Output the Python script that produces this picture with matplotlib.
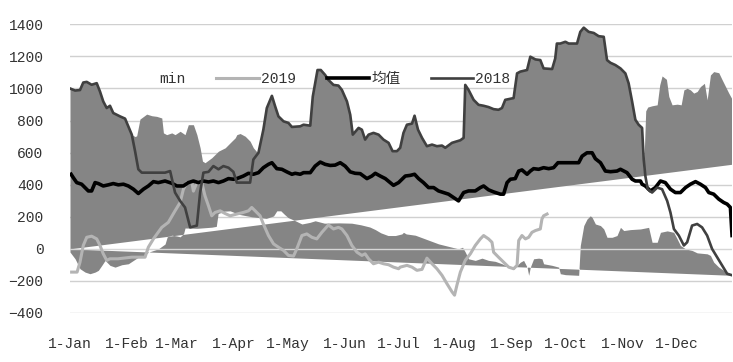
import numpy as np
import matplotlib
matplotlib.use('Agg')
import matplotlib.pyplot as plt
from matplotlib.patches import Patch
from matplotlib.lines import Line2D

plt.rcParams['font.family'] = ['Liberation Mono', 'Noto Sans CJK SC']

# ---------------- data (day of year, value) ----------------
month_ticks = [0, 31, 59, 90, 120, 151, 181, 212, 243, 273, 304, 334]
month_labels = ['1-Jan', '1-Feb', '1-Mar', '1-Apr', '1-May', '1-Jun',
                '1-Jul', '1-Aug', '1-Sep', '1-Oct', '1-Nov', '1-Dec']
y_ticks = [-400, -200, 0, 200, 400, 600, 800, 1000, 1200, 1400]

# upper edge of the grey "max" area
max_days = [0, 2.8, 5.5, 7.3, 9.2, 11.9, 14.7, 16.5, 18.3, 20.2, 22, 23.8, 27.5, 30.3, 32.1, 34,
            35.8, 36.7, 38.5, 42.2, 45, 47.7, 50.5, 51.4, 53.2, 56, 57.8, 60.6, 63.3, 65.1, 67.9,
            69.8, 71.6, 72.9, 74.3, 78, 81.7, 85.4, 89, 90.9, 91.8, 93.6, 96.4, 99.1, 100.9, 102.8,
            103.7, 106.4, 108.3, 111.1, 112.9, 114.7, 117.5, 120.2, 122.1, 126.7, 128.5, 132.2,
            133.6, 136.2, 138, 140.4, 142.2, 145, 147.7, 149.6, 152.4, 154.2, 155.6, 158.8, 160.6,
            162.4, 164.3, 167, 169.8, 172.5, 175.3, 177.5, 179.9, 181.7, 183.5, 185.4, 188.2, 189.6,
            191.5, 193.7, 196.4, 199.2, 201.9, 204.7, 206.5, 210.2, 214.8, 216.6, 217.5, 219.3,
            222.1, 224.8, 227.6, 230.3, 233.1, 235.8, 237.7, 239.5, 242.3, 244.1, 246, 247.8,
            251.5, 253.3, 256.1, 258.8, 260.6, 265.3, 267, 267.9, 269.8, 272.6, 274.4, 279, 280.8,
            282.7, 285.4, 288.2, 290.9, 293.7, 295.5, 297.4, 300.1, 302.9, 305.6, 307.4, 309.3,
            311.1, 312.9, 314.8, 315.6, 316.8, 317.9, 320.3, 323.1, 324.5, 325.8, 328.2, 329.5,
            331.3, 334.1, 336.3, 337.8, 339.6, 341.4, 343.2, 345.1, 346.9, 349.1, 350.6, 352.4,
            354.2, 357, 358.9, 360.7, 362.5, 364]
max_vals = [1000, 987, 990, 1037, 1041, 1023, 1033, 981, 919, 878, 892, 847, 826, 812, 764, 712,
            700, 705, 809, 840, 830, 826, 816, 723, 712, 723, 712, 733, 712, 774, 774,
            712, 630, 547, 537, 568, 609, 630, 671, 692, 712, 719, 702, 671, 630, 605,
            600, 743, 878, 954, 888, 826, 795, 785, 760, 764, 774, 768,
            950, 1115, 1115, 1084, 1053, 1022, 1018, 991, 919, 836, 712, 754, 743,
            681, 712, 723, 712, 681, 661, 609, 609, 630, 723, 774, 781, 830,
            743, 692, 640, 650, 640, 644, 630, 661, 677, 692, 1022, 991,
            929, 898, 892, 884, 871, 867, 878, 929, 936, 940, 1094, 1105,
            1115, 1198, 1181, 1177, 1125, 1121, 1187, 1280, 1280, 1291, 1280, 1280, 1353,
            1379, 1353, 1346, 1326, 1322, 1177, 1160, 1146, 1125, 1094, 1032, 919,
            805, 774, 754, 470, 860, 884, 892, 898, 1022, 1078, 1057, 950,
            898, 902, 898, 991, 1001, 991, 971, 981, 1012, 1032, 929, 1084,
            1105, 1098, 1053, 1012, 971, 940]

# upper edge of the lower grey band
low_days = [0, 2.8, 5.5, 8.3, 11, 13.8, 15.6, 17.5, 19.3, 22, 24.8, 28.5, 32.1, 34.9, 37.6, 40.4,
            43.1, 48.6, 52.3, 53.5, 56, 58.8, 60.6, 62.5, 63.3, 70, 78, 80.5, 81.5, 85, 88.1, 93,
            100, 108, 112, 113.8, 116, 118, 120, 124, 127.6, 132, 134.9, 140, 148, 155, 160, 165,
            168, 171, 175, 179, 182.6, 183.5, 185, 190, 202.8, 213.8, 216, 217.5, 219.3, 223,
            226.7, 230.3, 234, 237.7, 241.4, 244.1, 246, 247.8, 249.6, 251.5, 252.4, 253.3, 255.1,
            257.9, 259.7, 260.6, 265.3, 268.9, 269.8, 272.6, 279.9, 280.8, 282.7, 284.5, 286.3,
            287.3, 289.1, 291.9, 293.7, 295.5, 298.3, 301, 302.9, 304.7, 308.4, 313.9, 318.4,
            320.3, 323.1, 324.9, 328.6, 332.2, 334.1, 335.9, 338.7, 342.3, 345.1, 350.6, 352.4,
            354.2, 357, 359.7, 362.5, 364]
low_vals = [-20, -62, -124, -145, -155, -145, -134, -103, -72, -103, -114, -99, -93, -72, -52, -45,
            -21, 0, 30, 75, 85, 80, 75, 95, 130, 128, 135, 140, 220, 235, 237, 215,
            200, 190, 205, 237, 237, 215, 195, 175, 155, 165, 175, 160, 162, 160, 150, 136,
            120, 100, 83, 83, 93, 103, 93, 85, 31, 0, 10, -20, -62, -72,
            -58, -72, -78, -93, -114, -128, -103, -83, -72, -114, -165, -114, -62,
            -58, -62, -93, -103, -114, -155, -161, -165, 21, 145, 186, 206,
            196, 155, 145, 124, 72, 72, 83, 134, 114, 120, 124, 134,
            41, 41, 103, 112, 103, 62, 21, 0, -10, -25, -31, -41,
            -83, -114, -134, -155, -163]

# closing edges of the two area polygons (start value, end value)
max_close = [0, 527]
low_close = [0, -165]

s2019_days = [0.9, 3.9, 5.5, 7.3, 9.2, 11.9, 14.7, 16.5, 18.3, 20.2, 22, 26.4, 34, 41.3, 43.1, 45.9,
              50.5, 54.1, 57.8, 60.6, 62.4, 64.3, 67, 67.9, 69.8, 72.5, 74.3, 76.2, 78, 79.8, 82.6,
              85.4, 88.1, 91.8, 95.4, 98.2, 100, 101.9, 104.6, 106.4, 109.2, 112, 114.7, 117.5,
              120.2, 123, 124.8, 127.6, 130.3, 133.1, 135.8, 138.6, 142.2, 145, 147.7, 149.6,
              152.4, 155.1, 157.9, 160.6, 162.4, 164.3, 167, 169.8, 172.5, 175.3, 178, 180.8,
              181.7, 185.4, 188.2, 190.9, 193.7, 196.4, 199.2, 201.9, 204.7, 207.4, 210.2, 211.6,
              212.9, 214.8, 217.5, 220.3, 223, 225.8, 227.6, 230.3, 232.2, 233.1, 235.8, 238.6,
              241.4, 244.1, 246, 246.9, 248.7, 250.6, 252.4, 254.2, 256.1, 258.8, 259.7, 260.6,
              262.5]
s2019_vals = [-145, -145, -83, 21, 72, 79, 62, 21, -31, -72, -62, -62, -52, -52, 10, 62,
              134, 165, 237, 289, 372, 413, 417, 360, 413, 413, 330, 268, 206, 227, 237,
              220, 206, 217, 227, 237, 258, 237, 206, 155, 83, 31, 10, -10,
              -41, -45, 0, 83, 93, 72, 62, 103, 149, 124, 134, 124,
              83, 21, -21, -41, -31, -62, -93, -83, -93, -99, -114, -124,
              -114, -103, -114, -134, -128, -58, -93, -124, -165, -217, -268, -289,
              -227, -145, -72, -31, 21, 62, 83, 62, 41, -21, -52, -83,
              -114, -124, -103, 52, 83, 62, 72, 103, 114, 124, 186, 206,
              217]

mean_days = [0.6, 1.8, 3.7, 6.4, 10.1, 11.9, 13.8, 15.6, 18.3, 21.1, 23.8, 26.6, 29.4, 32.1, 34.9,
             37.6, 40.4, 43.1, 45.9, 48.6, 52.3, 56, 58.8, 62.4, 65.1, 67.9, 70.6, 73.4, 76.2, 78.9,
             81.7, 84.4, 87.2, 89.9, 91.8, 95.4, 98.2, 100.9, 103.7, 106.4, 109.2, 111.1, 113.8,
             116.6, 119.3, 122.1, 123.9, 126.7, 128.5, 132.2, 134.9, 137.7, 140.4, 143.2, 145.9,
             148.7, 151.4, 154.2, 156.9, 159.7, 163.4, 166.1, 168, 170.7, 173.5, 176.2, 178, 180.8,
             181.7, 184.5, 187.2, 189.6, 191.8, 194.5, 197.3, 200.1, 202.8, 205.6, 208.3, 211.1,
             213.8, 216.6, 219.3, 223, 225.8, 227.6, 230.3, 233.1, 236.8, 238.6, 240.5, 242.3, 245,
             246.9, 248.7, 251.5, 253.3, 255.1, 257.9, 260.6, 263.4, 266.1, 268.5, 270.8, 272.6,
             275.3, 279.9, 281.8, 284.5, 287.3, 289.1, 291.9, 294.6, 297.4, 301, 302.9, 306.5,
             309.3, 311.1, 313.9, 314.8, 316.6, 319.4, 322.1, 324.9, 327.6, 330.4, 333.1, 335.9,
             338.7, 341.4, 344.2, 346.9, 349.7, 351.5, 354.2, 357, 359.7, 361.6, 363.4, 364.3]
mean_vals = [465, 444, 413, 403, 361, 361, 413, 407, 392, 399, 407, 399, 403, 392, 372,
             345, 372, 392, 419, 413, 423, 409, 392, 392, 413, 423, 413, 423, 417, 423,
             413, 423, 438, 434, 438, 454, 471, 465, 475, 506, 527, 537, 500,
             496, 480, 465, 471, 465, 475, 475, 516, 541, 527, 520, 522,
             537, 516, 480, 471, 469, 438, 454, 471, 454, 438, 413, 396, 413,
             423, 454, 458, 465, 438, 413, 382, 382, 361, 351, 341, 320,
             299, 351, 361, 361, 382, 392, 368, 355, 341, 341, 413, 434, 438,
             485, 492, 465, 485, 500, 496, 506, 500, 506, 537, 537, 537,
             537, 537, 578, 599, 599, 562, 537, 485, 481, 485, 496, 475,
             434, 423, 423, 403, 392, 361, 382, 423, 413, 372, 351, 351,
             382, 403, 419, 403, 382, 351, 341, 310, 289, 279, 258, 83]

s2018_days = [0, 2.8, 5.5, 7.3, 9.2, 11.9, 14.7, 16.5, 18.3, 20.2, 22, 23.8, 27.5, 30.3, 32.1, 34,
              35.8, 37.6, 39.5, 52.3, 55.1, 57.8, 60.6, 63.3, 66.1, 69.8, 71.6, 73.4, 76.2, 78.9,
              81.7, 84.4, 87.2, 89.9, 91.8, 99.1, 100.9, 103.7, 106.4, 108.3, 111.1, 112.9, 114.7,
              117.5, 120.2, 122.1, 126.7, 128.5, 132.2, 133.6, 136.2, 138, 140.4, 142.2, 145, 147.7,
              149.6, 152.4, 154.2, 155.6, 158.8, 160.6, 162.4, 164.3, 167, 169.8, 172.5, 175.3,
              177.5, 179.9, 181.7, 183.5, 185.4, 188.2, 189.6, 191.5, 193.7, 196.4, 199.2, 201.9,
              204.7, 206.5, 210.2, 214.8, 216.6, 217.5, 219.3, 222.1, 224.8, 227.6, 230.3, 233.1,
              235.8, 237.7, 239.5, 242.3, 244.1, 246, 247.8, 251.5, 253.3, 256.1, 258.8, 260.6,
              265.3, 267, 267.9, 269.8, 272.6, 274.4, 279, 280.8, 282.7, 285.4, 288.2, 290.9, 293.7,
              295.5, 297.4, 300.1, 302.9, 305.6, 307.4, 309.3, 311.1, 312.9, 314.8, 315.7, 316.6,
              317.9, 320.3, 323.1, 325.8, 328.6, 330.4, 332.3, 335, 337.8, 339.6, 342.3, 345.1,
              347.8, 350.6, 353.3, 356.1, 358.9, 361.6, 364.4]
s2018_vals = [1000, 987, 990, 1037, 1041, 1023, 1033, 981, 919, 878, 892, 847, 826, 812, 764, 712,
              609, 496, 475, 475, 485, 351, 299, 258, 134, 145, 351, 475, 480, 516,
              496, 516, 506, 480, 413, 413, 557, 599, 743, 878, 954, 888, 826,
              795, 785, 760, 764, 774, 768, 950, 1115, 1115, 1084, 1053, 1022, 1018,
              991, 919, 836, 712, 754, 743, 681, 712, 723, 712, 681, 661,
              609, 609, 630, 723, 774, 781, 830, 743, 692, 640, 650, 640,
              644, 630, 661, 677, 692, 1022, 991, 929, 898, 892, 884, 871,
              867, 878, 929, 936, 940, 1094, 1105, 1115, 1198, 1181, 1177, 1125,
              1121, 1187, 1280, 1280, 1291, 1280, 1280, 1353, 1379, 1353, 1346, 1326, 1322,
              1177, 1160, 1146, 1125, 1094, 1032, 919, 805, 774, 754, 557, 454,
              372, 351, 382, 372, 299, 227, 124, 83, 21, 41, 145, 155,
              134, 83, 0, -52, -103, -155, -165]

# ---------------- styling ----------------
AREA = '#858585'
C2018 = '#404040'
C2019 = '#b4b4b4'
CMEAN = '#000000'
GRID = '#d0d0d0'
TXT = '#333333'

fig = plt.figure(figsize=(7.33, 3.62), dpi=100)
ax = fig.add_axes([70 / 733, 49 / 362, 661.5 / 733, 288.7 / 362])

# area polygons (max closed along its closing edge, lower band closed along its own)
grid = np.union1d(np.linspace(0, 364, 3000), np.union1d(max_days, low_days))
mx = np.interp(grid, max_days, max_vals)
lo = np.interp(grid, low_days, low_vals)
d1 = np.interp(grid, [grid[0], grid[-1]], max_close)
d2 = np.interp(grid, [grid[0], grid[-1]], low_close)
ax.fill_between(grid, np.maximum(d1, lo), mx, color=AREA, lw=0, zorder=1)
ax.fill_between(grid, d2, np.minimum(lo, d1), color=AREA, lw=0, zorder=1)

for v in y_ticks:
    if v != 0:
        ax.axhline(v, color=GRID, lw=1.0, zorder=0)
ax.axhline(0, color='#d6d6d6', lw=1.0, zorder=2)

l19, = ax.plot(s2019_days, s2019_vals, color=C2019, lw=2.2, zorder=3, solid_joinstyle='round')
lm, = ax.plot(mean_days, mean_vals, color=CMEAN, lw=2.6, zorder=4, solid_joinstyle='round')
l18, = ax.plot(s2018_days, s2018_vals, color=C2018, lw=1.9, zorder=5, solid_joinstyle='round')

ax.set_xlim(0, 364)
ax.set_ylim(-400, 1400)
ax.set_yticks(y_ticks)
ax.set_xticks(month_ticks)
ax.set_xticklabels(month_labels)
ax.tick_params(axis='both', length=0, labelsize=10.5, labelcolor=TXT)
ax.tick_params(axis='y', pad=19)
ax.tick_params(axis='x', pad=17)
for s in ax.spines.values():
    s.set_visible(False)

handles = [Patch(facecolor='white', edgecolor='none'), l19, lm, l18]
labels = ['min', '2019', '均值', '2018']
leg = ax.legend(handles, labels, loc='center', bbox_to_anchor=(0.367, 0.81), ncol=4,
                frameon=False, fontsize=10.5, handlelength=2.9, handletextpad=0.15,
                columnspacing=2.1, borderpad=0, labelcolor=TXT)

fig.savefig('out.png', dpi=100)
